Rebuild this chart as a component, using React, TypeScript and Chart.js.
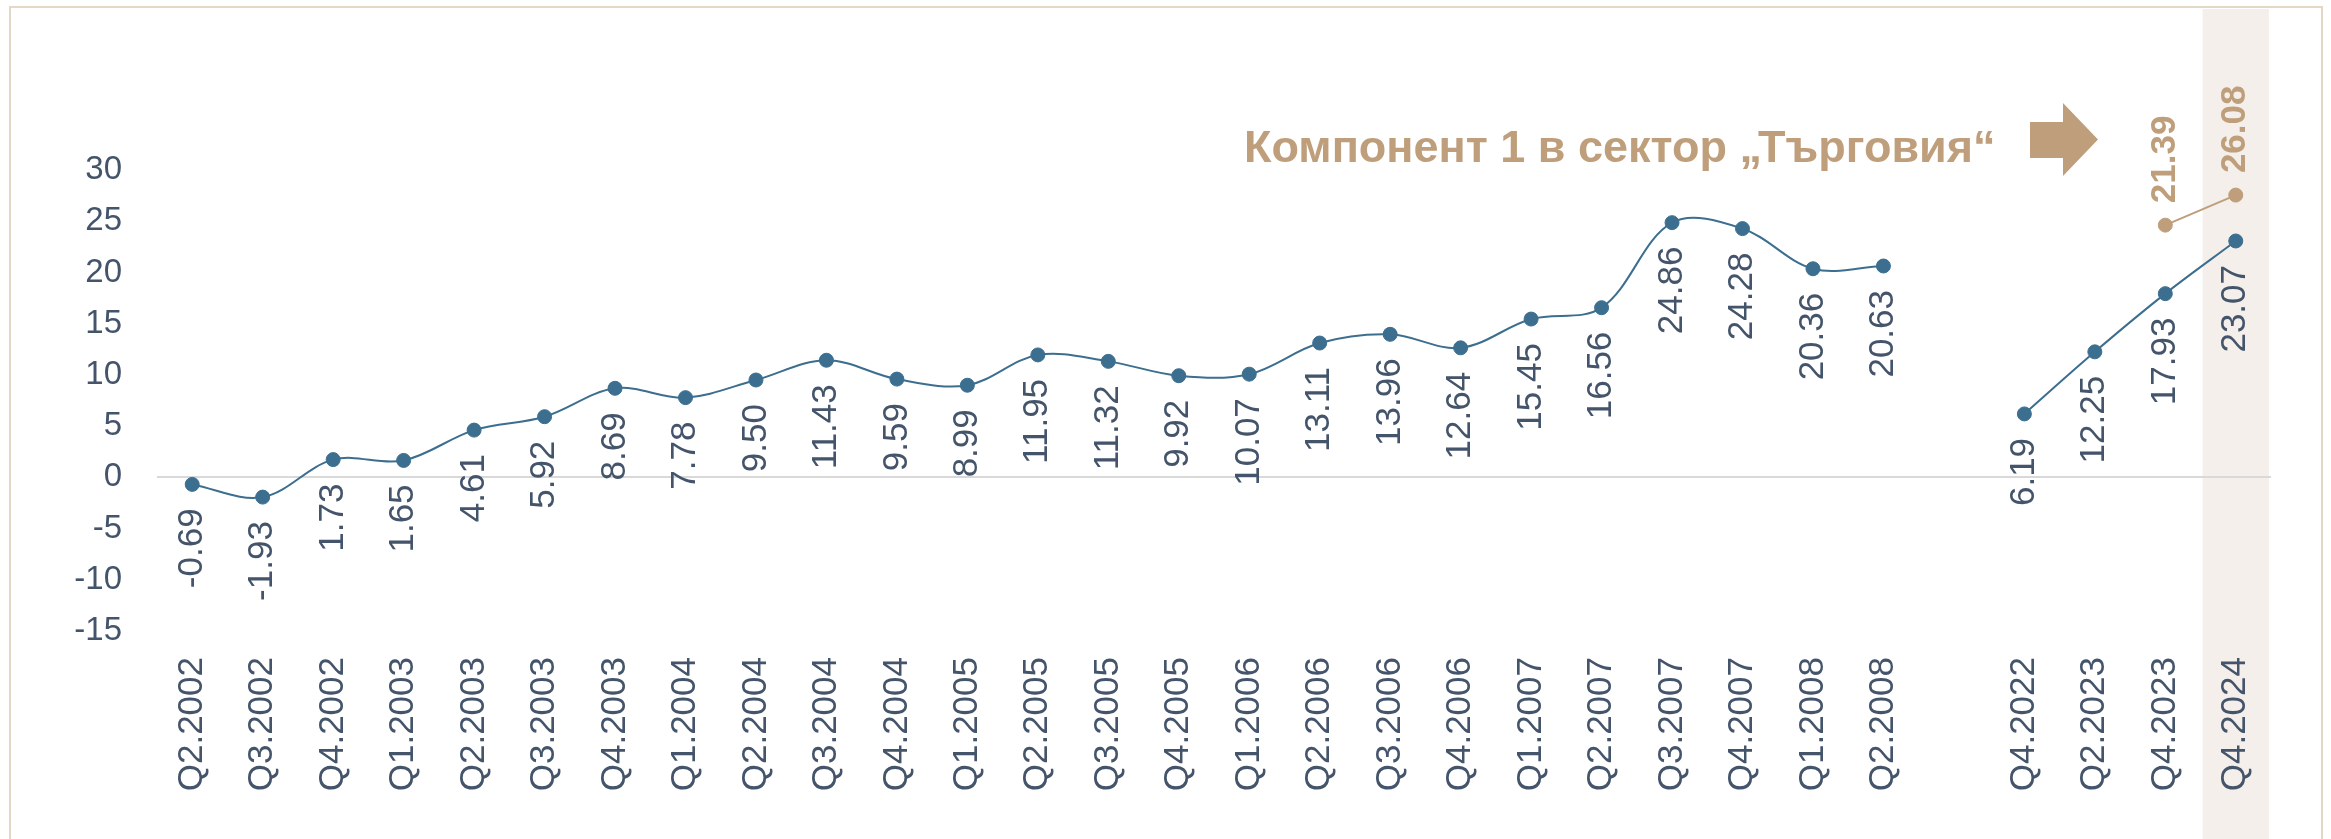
import React, { useEffect, useRef } from 'react';
import { Chart, registerables } from 'chart.js';

Chart.register(...registerables);

// ---- Data ----
const categories: string[] = [
  'Q2.2002', 'Q3.2002', 'Q4.2002',
  'Q1.2003', 'Q2.2003', 'Q3.2003', 'Q4.2003',
  'Q1.2004', 'Q2.2004', 'Q3.2004', 'Q4.2004',
  'Q1.2005', 'Q2.2005', 'Q3.2005', 'Q4.2005',
  'Q1.2006', 'Q2.2006', 'Q3.2006', 'Q4.2006',
  'Q1.2007', 'Q2.2007', 'Q3.2007', 'Q4.2007',
  'Q1.2008', 'Q2.2008',
  '',
  'Q4.2022', 'Q2.2023', 'Q4.2023', 'Q4.2024',
];

const componentValues: (number | null)[] = [
  -0.69, -1.93, 1.73,
  1.65, 4.61, 5.92, 8.69,
  7.78, 9.5, 11.43, 9.59,
  8.99, 11.95, 11.32, 9.92,
  10.07, 13.11, 13.96, 12.64,
  15.45, 16.56, 24.86, 24.28,
  20.36, 20.63,
  null,
  6.19, 12.25, 17.93, 23.07,
];

const tradeValues: (number | null)[] = [
  null, null, null,
  null, null, null, null,
  null, null, null, null,
  null, null, null, null,
  null, null, null, null,
  null, null, null, null,
  null, null,
  null,
  null, null, 21.39, 26.08,
];

const yMin = -15;
const yMax = 30;
const yStep = 5;
const y2Min = -42;
const y2Max = 30;
const highlightIndex = 29;
const titleText = 'Компонент 1 в сектор „Търговия“';

// ---- Styles ----
const FONT = '"Liberation Sans", Arial, Helvetica, sans-serif';
const BLUE = '#3C6E8F';
const TAN = '#BF9F7B';
const TEXT = '#44546A';
const BAND = '#F4EFEA';
const FRAME = '#E3D8C6';

const bandPlugin = {
  id: 'highlightBand',
  beforeDraw(chart: any) {
    const xs = chart.scales.x;
    const ctx = chart.ctx;
    const c = xs.getPixelForValue(highlightIndex);
    const w = (xs.getPixelForValue(1) - xs.getPixelForValue(0)) * 0.94;
    ctx.save();
    ctx.fillStyle = BAND;
    ctx.fillRect(c - w / 2, 9, w, chart.height - 9);
    ctx.restore();
  },
};

const labelPlugin = {
  id: 'valueLabels',
  afterDatasetsDraw(chart: any) {
    const ctx = chart.ctx;
    chart.data.datasets.forEach((ds: any, di: number) => {
      const meta = chart.getDatasetMeta(di);
      const above = di === 1;
      meta.data.forEach((pt: any, i: number) => {
        const v = ds.data[i];
        if (v === null || v === undefined) return;
        ctx.save();
        ctx.translate(pt.x, above ? pt.y - 22 : pt.y + 24);
        ctx.rotate(-Math.PI / 2);
        ctx.font = (above ? 'bold ' : '') + '35px ' + FONT;
        ctx.fillStyle = above ? TAN : TEXT;
        ctx.textAlign = above ? 'left' : 'right';
        ctx.textBaseline = 'middle';
        ctx.fillText(Number(v).toFixed(2), 0, 0);
        ctx.restore();
      });
    });
  },
};

export default function App() {
  const ref = useRef<HTMLCanvasElement>(null);

  useEffect(() => {
    Chart.defaults.font.family = FONT;
    const chart = new Chart(ref.current as HTMLCanvasElement, {
      type: 'line',
      data: {
        labels: categories,
        datasets: [
          {
            data: componentValues,
            borderColor: BLUE,
            backgroundColor: BLUE,
            pointBackgroundColor: BLUE,
            pointBorderColor: BLUE,
            pointRadius: 7,
            pointBorderWidth: 1,
            borderWidth: 2,
            tension: 0.35,
            spanGaps: false,
            fill: false,
            yAxisID: 'y',
          },
          {
            data: tradeValues,
            borderColor: TAN,
            backgroundColor: TAN,
            pointBackgroundColor: TAN,
            pointBorderColor: TAN,
            pointRadius: 7,
            pointBorderWidth: 1,
            borderWidth: 2,
            tension: 0,
            spanGaps: false,
            fill: false,
            yAxisID: 'y2',
          },
        ],
      },
      options: {
        responsive: false,
        animation: false,
        devicePixelRatio: 1,
        layout: { padding: { top: 170, right: 60, left: 0, bottom: 0 } },
        plugins: {
          legend: { display: false },
          tooltip: { enabled: false },
          title: { display: false },
        },
        scales: {
          x: {
            type: 'category',
            offset: true,
            grid: { display: false, drawTicks: false },
            border: { display: false },
            ticks: {
              autoSkip: false,
              minRotation: 90,
              maxRotation: 90,
              padding: 26,
              color: TEXT,
              font: { family: FONT, size: 35 },
            },
            afterFit: (s: any) => {
              s.height = 208;
            },
          },
          y: {
            min: yMin,
            max: yMax,
            ticks: {
              stepSize: yStep,
              padding: 35,
              color: TEXT,
              font: { family: FONT, size: 33 },
            },
            grid: {
              drawTicks: false,
              lineWidth: 2,
              color: (c: any) => (c.tick && c.tick.value === 0 ? '#D9D9D9' : 'rgba(0,0,0,0)'),
            },
            border: { display: false },
            afterFit: (s: any) => {
              s.width = 157;
            },
          },
          y2: {
            display: false,
            min: y2Min,
            max: y2Max,
          },
        },
      } as any,
      plugins: [bandPlugin, labelPlugin],
    });
    return () => chart.destroy();
  }, []);

  return (
    <div
      style={{
        position: 'fixed',
        left: 0,
        top: 0,
        width: 2331,
        height: 839,
        overflow: 'hidden',
        background: '#ffffff',
      }}
    >
      <div
        style={{
          position: 'absolute',
          left: 9,
          top: 6,
          width: 2314,
          height: 1000,
          boxSizing: 'border-box',
          border: '2px solid ' + FRAME,
        }}
      />
      <canvas
        ref={ref}
        width={2331}
        height={839}
        style={{ position: 'absolute', left: 0, top: 0, width: 2331, height: 839 }}
      />
      <div
        style={{
          position: 'absolute',
          left: 1244,
          top: 124,
          fontFamily: FONT,
          fontWeight: 'bold',
          fontSize: 45,
          lineHeight: '45px',
          color: TAN,
          whiteSpace: 'nowrap',
        }}
      >
        {titleText}
      </div>
      <svg
        width={68}
        height={73}
        style={{ position: 'absolute', left: 2030, top: 103 }}
      >
        <polygon points="0,19 33,19 33,0 68,36.5 33,73 33,55 0,55" fill={TAN} />
      </svg>
    </div>
  );
}
